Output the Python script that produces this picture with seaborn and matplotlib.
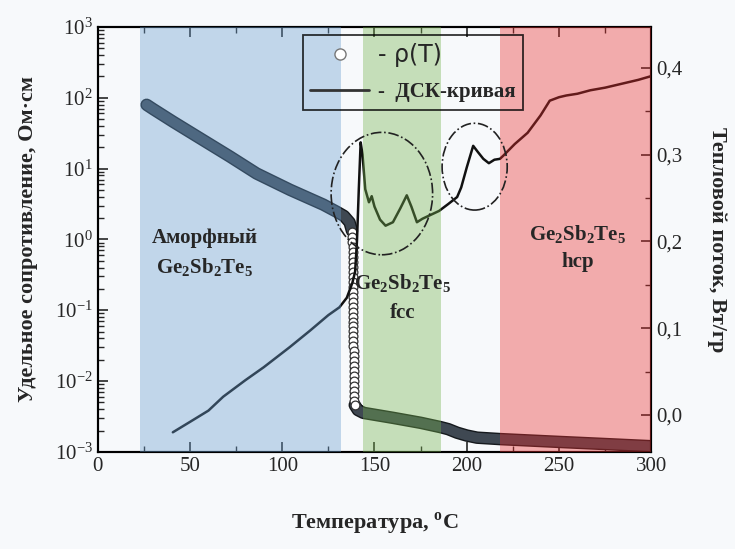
import numpy as np
import matplotlib
matplotlib.use('Agg')
import matplotlib.pyplot as plt
import matplotlib.patheffects as pe
from matplotlib.patches import Ellipse
from matplotlib.lines import Line2D
import seaborn as sns

# resistivity, dense part (T, lg rho)
t_rho_a = [26.5, 30, 40.9, 55.3, 71.6, 86.1, 104.2, 122.3, 129.5, 133.5, 136.5, 137.8]
lg_rho_a = [1.90, 1.84, 1.66, 1.43, 1.17, 0.93, 0.70, 0.49, 0.39, 0.33, 0.24, 0.12]

# resistivity, drop (open circles)
t_rho_drop = [137.9, 138.0, 138.0, 138.1, 138.1, 138.2, 138.2, 138.2, 138.3, 138.3,
              138.3, 138.3, 138.4, 138.4, 138.4, 138.4, 138.5, 138.5, 138.5, 138.5,
              138.6, 138.6, 138.6, 138.6, 138.7, 138.7, 138.7, 138.8, 138.8, 138.8,
              138.9, 138.9, 139.0, 139.0, 139.1, 139.2]
lg_rho_drop = [0.10, 0.03, -0.04, -0.11, -0.18, -0.25, -0.32, -0.39, -0.46, -0.53,
               -0.60, -0.67, -0.74, -0.81, -0.88, -0.95, -1.02, -1.09, -1.16, -1.23,
               -1.30, -1.37, -1.44, -1.51, -1.58, -1.65, -1.72, -1.79, -1.86, -1.93,
               -2.00, -2.07, -2.14, -2.21, -2.28, -2.34]

# resistivity, crystalline part
t_rho_b = [139.3, 141, 144, 160, 175, 185.6, 190, 194.8, 200, 205.6, 218, 250, 275, 299.5]
lg_rho_b = [-2.34, -2.41, -2.45, -2.52, -2.59, -2.65, -2.68, -2.73, -2.77, -2.80,
            -2.82, -2.86, -2.89, -2.92]

# DSC curve
t_dsc = [40.7, 50, 60, 68, 80, 90, 104, 115, 125, 131, 135, 138, 139.5, 140.5, 141.5,
         142.5, 143.5, 145, 147, 148.5, 150, 153, 156, 160, 164, 167.5, 170, 173, 176,
         180, 185, 190, 194.8, 197, 200, 203.5, 206, 209, 212, 215, 218, 220, 226, 233,
         240, 245, 250, 254, 260, 267, 275, 285, 293, 299.5]
q_dsc = [-0.020, -0.008, 0.005, 0.021, 0.040, 0.055, 0.078, 0.097, 0.115, 0.124, 0.135,
         0.152, 0.165, 0.200, 0.260, 0.314, 0.300, 0.260, 0.245, 0.252, 0.240, 0.225,
         0.218, 0.222, 0.238, 0.253, 0.240, 0.222, 0.226, 0.230, 0.235, 0.243, 0.251,
         0.262, 0.285, 0.310, 0.303, 0.295, 0.290, 0.294, 0.295, 0.299, 0.312, 0.325,
         0.345, 0.362, 0.366, 0.368, 0.370, 0.374, 0.377, 0.382, 0.386, 0.390]

# phase regions
bands = [(23, 132), (144, 186), (218, 300)]
band_colors = ['#699dcf', '#75b24e', '#eb2d2d']

right_ticks = [0.0, 0.1, 0.2, 0.3, 0.4]
right_labels = ['0,0', '0,1', '0,2', '0,3', '0,4']

sns.set_style('ticks')
plt.rcParams['font.family'] = ['Liberation Serif', 'DejaVu Serif']
plt.rcParams['mathtext.fontset'] = 'custom'
plt.rcParams['mathtext.rm'] = 'Liberation Serif'
plt.rcParams['xtick.direction'] = 'in'
plt.rcParams['ytick.direction'] = 'in'

bg = '#f7f9fb'
fig = plt.figure(figsize=(7.35, 5.49), dpi=100, facecolor=bg)
ax = fig.add_subplot(111)
fig.subplots_adjust(left=0.133, right=0.886, top=0.951, bottom=0.177)
ax.set_facecolor(bg)

stroke = [pe.Stroke(linewidth=9, foreground='#15191d'), pe.Normal()]
sns.lineplot(x=t_rho_a, y=10 ** np.array(lg_rho_a), ax=ax, color='#3f4852',
             linewidth=7, sort=False, estimator=None, path_effects=stroke)
sns.lineplot(x=t_rho_b, y=10 ** np.array(lg_rho_b), ax=ax, color='#3f4852',
             linewidth=7, sort=False, estimator=None, path_effects=stroke)
sns.scatterplot(x=t_rho_drop, y=10 ** np.array(lg_rho_drop), ax=ax, marker='o',
                s=40, facecolor='white', edgecolor='#333333', linewidth=0.9, zorder=3)
ax.set_yscale('log')
ax.set_ylim(1e-3, 1e3)
ax.set_xlim(0, 300)
ax.set_xticks(range(0, 301, 50))
ax.set_xticks(range(0, 301, 25), minor=True)
ax.tick_params(axis='both', which='major', length=7, width=1.2, labelsize=15, top=True)
ax.tick_params(axis='both', which='minor', length=4, width=1, top=True)
ax.set_xlabel('Температура, $^{\\mathdefault{o}}$C', fontsize=16, fontweight='bold', labelpad=25)
ax.set_ylabel('Удельное сопротивление, Ом·см', fontsize=16, fontweight='bold', labelpad=12)

ax2 = ax.twinx()
sns.lineplot(x=t_dsc, y=q_dsc, ax=ax2, color='#111111', linewidth=1.8,
             sort=False, estimator=None)
ax2.set_ylim(-0.0425, 0.447)
ax2.set_yticks(right_ticks)
ax2.set_yticklabels(right_labels)
ax2.set_yticks([0.05, 0.15, 0.25, 0.35], minor=True)
ax2.tick_params(axis='y', which='major', length=7, width=1.2, labelsize=15)
ax2.tick_params(axis='y', which='minor', length=4, width=1)
ax2.set_ylabel('Тепловой поток, Вт/гр', fontsize=16, fontweight='bold',
               rotation=270, labelpad=32)

for (x0, x1), c in zip(bands, band_colors):
    ax2.axvspan(x0, x1, color=c, alpha=0.38, lw=0, zorder=4)

for cx, cy, w, h in [(154, 0.255, 55, 0.141), (204.3, 0.286, 35.3, 0.10)]:
    ax2.add_patch(Ellipse((cx, cy), w, h, fill=False, ls='-.', lw=1.2,
                          edgecolor='#222222', zorder=5))

for sp in list(ax.spines.values()) + list(ax2.spines.values()):
    sp.set_linewidth(1.5)
    sp.set_color('black')

gst = 'Ge$_{\\mathdefault{2}}$Sb$_{\\mathdefault{2}}$Te$_{\\mathdefault{5}}$'
txt = dict(fontsize=15, fontweight='bold', ha='center', va='center', zorder=6,
           transform=ax.transData)
ax2.text(58, 10 ** 0.02, 'Аморфный', **txt)
ax2.text(58, 10 ** -0.40, gst, **txt)
ax2.text(165.5, 10 ** -0.62, gst, **txt)
ax2.text(165.5, 10 ** -1.04, 'fcc', **txt)
ax2.text(260, 10 ** 0.06, gst, **txt)
ax2.text(260, 10 ** -0.32, 'hcp', **txt)

handles = [Line2D([], [], ls='none', marker='o', markersize=8, markerfacecolor='white',
                  markeredgecolor='#777777'),
           Line2D([], [], color='#333333', lw=2)]
leg = ax2.legend(handles, ['- ρ(T)', '-  ДСК-кривая'], loc='upper left',
                 bbox_to_anchor=(0.371, 0.98), borderaxespad=0, handlelength=2.8,
                 labelspacing=0.75, fontsize=15, fancybox=False, edgecolor='black',
                 facecolor='none', framealpha=None, borderpad=0.35, handletextpad=0.45)
leg.get_frame().set_linewidth(1.3)
leg.set_zorder(7)
t0, t1 = leg.get_texts()
t0.set_fontfamily('DejaVu Sans')
t0.set_fontsize(17)
t1.set_fontweight('bold')
t1.set_fontsize(15)

fig.savefig('out.png', dpi=100, facecolor=bg)
